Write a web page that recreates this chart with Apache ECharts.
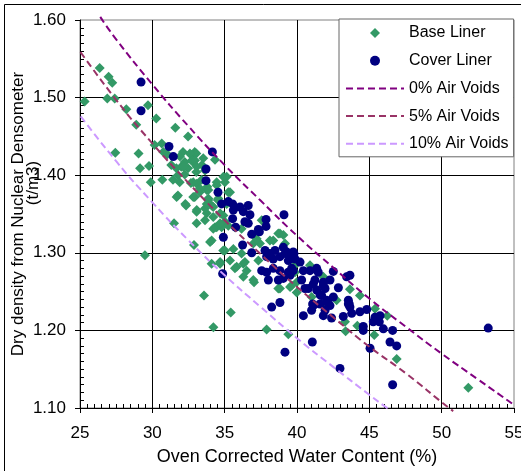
<!DOCTYPE html>
<html>
<head>
<meta charset="utf-8">
<script src="https://cdn.jsdelivr.net/npm/echarts@6/dist/echarts.min.js"></script>
<style>
  html, body { margin: 0; padding: 0; background: #fff; }
  #chart { width: 521px; height: 471px; }
</style>
</head>
<body>
<div id="chart"></div>
<script>
// [water content %, dry density t/m3]
var baseLiner = [
  [26.36,1.538],[26.98,1.527],[27.23,1.519],[25.32,1.495],[26.89,1.499],[27.40,1.499],[28.2,1.485],
  [29.7,1.490],[28.89,1.465],[30.27,1.473],[31.59,1.461],[32.47,1.450],[27.44,1.429],[29.05,1.428],
  [29.15,1.409],[29.77,1.412],[30.16,1.439],[30.65,1.441],[29.89,1.391],[30.69,1.394],[32.12,1.430],
  [32.93,1.430],[31.77,1.374],[32.28,1.363],[32.67,1.390],[32.93,1.372],[31.04,1.427],[31.31,1.413],
  [31.66,1.409],[32.0,1.411],[32.24,1.417],[32.69,1.426],[33.04,1.428],[32.81,1.417],[32.47,1.409],
  [31.77,1.400],[31.43,1.394],[31.89,1.391],[32.24,1.401],[33.04,1.404],[33.43,1.413],[33.27,1.378],
  [33.8,1.385],[30.76,1.430],[31.91,1.424],[32.14,1.411],[32.6,1.428],[32.72,1.419],[34.33,1.420],
  [35.14,1.398],[35.02,1.391],[34.45,1.391],[34.52,1.368],[35.25,1.378],[33.07,1.389],[32.83,1.372],
  [33.76,1.381],[33.87,1.368],[33.07,1.355],[33.76,1.351],[31.68,1.372],[32.33,1.361],[29.49,1.297],
  [32.95,1.419],[33.52,1.422],[33.07,1.411],[33.64,1.406],[32.83,1.391],[33.41,1.394],[33.29,1.383],
  [33.87,1.381],[34.45,1.387],[34.91,1.398],[35.37,1.378],[33.87,1.370],[34.56,1.370],[34.1,1.361],
  [33.64,1.357],[34.21,1.346],[34.91,1.348],[33.64,1.342],[35.02,1.340],[34.79,1.333],[34.33,1.333],
  [35.71,1.333],[36.17,1.331],[31.5,1.338],[33.06,1.338],[33.06,1.353],[32.88,1.310],[33.57,1.245],
  [34.22,1.204],[35.42,1.223],[37.9,1.201],[39.4,1.195],[34.1,1.316],[34.68,1.288],[34.45,1.333],
  [34.9,1.303],[35.83,1.282],[36.29,1.269],[37.03,1.262],[38.71,1.254],[36.4,1.288],[37.44,1.312],
  [38.36,1.316],[38.82,1.325],[37.56,1.342],[34.21,1.359],[33.76,1.363],[35.14,1.363],[34.68,1.351],
  [34.21,1.331],[34.68,1.338],[35.25,1.335],[33.99,1.314],[35.02,1.303],[35.6,1.305],[36.17,1.299],
  [34.68,1.286],[34.1,1.286],[35.37,1.290],[35.71,1.280],[36.29,1.286],[36.52,1.277],[36.98,1.265],
  [37.33,1.290],[36.98,1.312],[37.21,1.318],[38.13,1.316],[38.71,1.325],[39.17,1.312],[39.86,1.275],
  [39.98,1.262],[39.52,1.256],[38.82,1.254],[39.06,1.323],[39.98,1.249],[41.01,1.243],[41.82,1.269],
  [42.74,1.239],[43.66,1.253],[44.35,1.245],[45.39,1.228],[46.24,1.219],[39.63,1.258],[40.9,1.284],
  [39.86,1.284],[45.34,1.194],[43.36,1.199],[46.89,1.163],[51.84,1.126],[44.17,1.206],[43.32,1.211],
  [41.82,1.234]
];

var coverLiner = [
  [29.22,1.520],[29.22,1.483],[31.15,1.437],[31.45,1.424],[34.15,1.430],[33.71,1.408],[33.71,1.393],
  [34.54,1.378],[34.79,1.363],[35.25,1.366],[35.55,1.363],[36.06,1.359],[36.63,1.361],[35.6,1.355],
  [36.29,1.353],[36.75,1.349],[35.55,1.344],[35.76,1.333],[36.4,1.340],[36.63,1.338],[37.86,1.343],
  [37.86,1.334],[37.33,1.330],[39.1,1.349],[34.91,1.320],[36.87,1.324],[37.4,1.327],[36.24,1.310],
  [36.87,1.300],[37.79,1.303],[38.13,1.299],[38.48,1.303],[37.9,1.295],[38.36,1.292],[38.82,1.295],
  [39.29,1.301],[39.63,1.299],[39.86,1.292],[39.4,1.290],[37.56,1.277],[37.9,1.275],[38.36,1.280],
  [38.82,1.277],[39.4,1.275],[39.63,1.280],[39.52,1.271],[38.02,1.265],[38.71,1.265],[39.05,1.267],
  [34.86,1.273],[38.25,1.230],[38.82,1.236],[39.17,1.172],[41.06,1.185],[42.97,1.151],[45.05,1.177],
  [46.43,1.185],[46.89,1.180],[46.61,1.200],[45.97,1.202],[45.74,1.219],[45.27,1.211],[45.69,1.211],
  [44.58,1.205],[44.58,1.200],[44.82,1.227],[46.61,1.130],[53.22,1.203],[39.79,1.299],[40.21,1.288],
  [39.74,1.277],[40.44,1.277],[40.9,1.277],[41.36,1.280],[42.51,1.276],[40.32,1.265],[41.24,1.265],
  [41.82,1.262],[42.28,1.265],[43.43,1.269],[43.66,1.271],[40.78,1.254],[41.36,1.252],[41.94,1.254],
  [42.86,1.255],[41.7,1.245],[42.05,1.239],[42.51,1.243],[43.55,1.239],[41.13,1.232],[41.01,1.226],
  [41.94,1.226],[42.28,1.232],[43.66,1.230],[40.44,1.219],[41.82,1.219],[42.39,1.216],[43.2,1.218],
  [43.78,1.222],[44.35,1.224],[45.39,1.217],[41.08,1.234],[41.59,1.234],[42.17,1.234],[43.55,1.234],
  [39.05,1.307],[39.17,1.299],[39.74,1.301],[41.47,1.275],[43.61,1.234],[41.82,1.258],[41.59,1.246],
  [41.13,1.260],[40.55,1.254]
];

// air voids lines
var voids0 = [[26.4,1.604],[27.5,1.575],[30,1.517],[32.5,1.463],[35,1.413],[37.5,1.367],[40,1.322],
  [42.5,1.281],[45,1.241],[47.5,1.205],[50,1.170],[52.5,1.137],[55,1.104],[55.5,1.097]];
var voids5 = [[24.6,1.570],[27.5,1.497],[30,1.441],[32.5,1.390],[35,1.342],[37.5,1.298],[40,1.256],
  [42.5,1.217],[45,1.179],[47.5,1.145],[50.5,1.100],[50.8,1.096]];
var voids10 = [[24.6,1.487],[27.5,1.418],[30,1.365],[32.5,1.316],[35,1.271],[37.5,1.230],[40,1.190],
  [42.5,1.153],[45,1.117],[46,1.103],[46.4,1.098]];

var font = 'Liberation Sans, Arial, sans-serif';

var chart = echarts.init(document.getElementById('chart'));

function voidLine(name, data, color) {
  return {
    name: name,
    type: 'line',
    data: data,
    symbol: 'none',
    smooth: true,
    clip: false,
    z: 3,
    lineStyle: { color: color, width: 2, type: [7, 4] },
    itemStyle: { color: color }
  };
}

var option = {
  backgroundColor: '#fff',
  animation: false,
  textStyle: { fontFamily: font },
  grid: {
    left: 80, top: 20, right: 7, bottom: 63,
    outerBoundsMode: 'none',
    containLabel: false,
    show: true, borderColor: '#808080', borderWidth: 1
  },
  legend: {
    orient: 'vertical',
    left: 339, top: 19,
    padding: [6, 5, 5, 6],
    itemWidth: 58, itemHeight: 10, itemGap: 11.7,
    symbolKeepAspect: true,
    backgroundColor: '#fff',
    borderColor: '#666', borderWidth: 1,
    textStyle: { fontSize: 16, color: '#000', fontFamily: font },
    data: [
      { name: 'Base Liner', icon: 'path://M5,0L10,5L5,10L0,5Z' },
      { name: 'Cover Liner', icon: 'circle' },
      { name: '0% Air Voids', itemStyle: { opacity: 0 } },
      { name: '5% Air Voids', itemStyle: { opacity: 0 } },
      { name: '10% Air Voids', itemStyle: { opacity: 0 } }
    ]
  },
  xAxis: {
    type: 'value',
    min: 25, max: 55, interval: 5,
    name: 'Oven Corrected Water Content (%)',
    nameLocation: 'middle', nameGap: 40,
    nameMoveOverlap: false,
    nameTextStyle: { fontSize: 18, color: '#000', fontFamily: font },
    axisLine: { lineStyle: { color: '#000', width: 1 } },
    axisTick: { show: true, length: 5, lineStyle: { color: '#000' } },
    minorTick: { show: true, splitNumber: 10, length: -4, lineStyle: { color: '#000' } },
    axisLabel: { fontSize: 17, color: '#000', margin: 17, fontFamily: font },
    splitLine: { show: true, showMaxLine: false, lineStyle: { color: '#000', width: 1 } }
  },
  yAxis: {
    type: 'value',
    min: 1.1, max: 1.6, interval: 0.1,
    name: '{a|Dry density from Nuclear Densometer}\n{b|(t/m3)}',
    nameLocation: 'middle', nameGap: 39, nameRotate: 90,
    nameMoveOverlap: false,
    nameTextStyle: {
      color: '#000', fontFamily: font, fontSize: 17,
      rich: {
        a: { fontSize: 17, lineHeight: 15, align: 'center', padding: [0, 0, 0, 0], fontFamily: font },
        b: { fontSize: 17, lineHeight: 15, align: 'center', padding: [0, 0, 0, 62], fontFamily: font }
      }
    },
    axisLine: { show: true, lineStyle: { color: '#000', width: 1 } },
    axisTick: { show: true, length: 5, lineStyle: { color: '#000' } },
    minorTick: { show: true, splitNumber: 10, length: -4, lineStyle: { color: '#000' } },
    axisLabel: {
      fontSize: 17, color: '#000', margin: 14, fontFamily: font,
      formatter: function (v) { return v.toFixed(2); }
    },
    splitLine: { show: true, showMaxLine: false, lineStyle: { color: '#000', width: 1 } }
  },
  graphic: [{
    type: 'rect',
    shape: { x: 4.5, y: 4.5, width: 540, height: 500 },
    style: { fill: null, stroke: '#000', lineWidth: 1 },
    silent: true
  }],
  series: [
    {
      name: 'Base Liner',
      type: 'scatter',
      data: baseLiner,
      symbol: 'diamond',
      symbolSize: 10,
      itemStyle: { color: '#339966', opacity: 1 }
    },
    {
      name: 'Cover Liner',
      type: 'scatter',
      data: coverLiner,
      symbol: 'circle',
      symbolSize: 9,
      itemStyle: { color: '#000080', opacity: 1 }
    },
    voidLine('0% Air Voids', voids0, '#800080'),
    voidLine('5% Air Voids', voids5, '#993366'),
    voidLine('10% Air Voids', voids10, '#CC99FF')
  ]
};

chart.setOption(option);
</script>
</body>
</html>
